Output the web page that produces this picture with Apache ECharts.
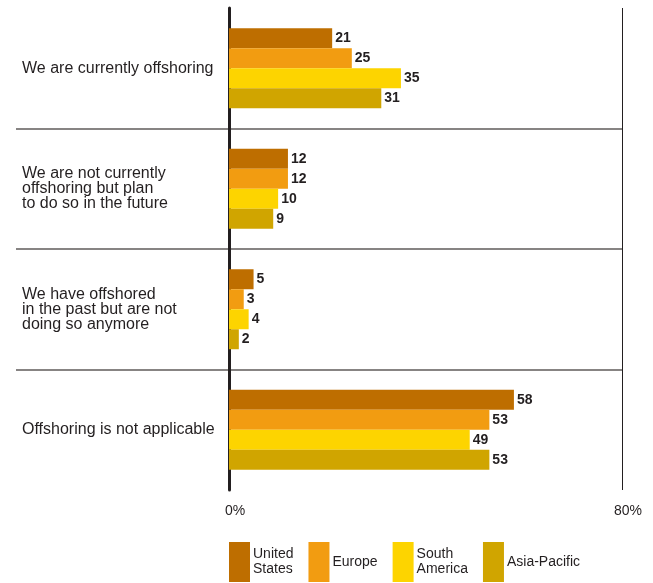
<!DOCTYPE html>
<html>
<head>
<meta charset="utf-8">
<script src="https://cdn.jsdelivr.net/npm/echarts@6/dist/echarts.min.js"></script>
<style>html,body{margin:0;padding:0;background:#fff}#c{width:653px;height:583px}</style>
</head>
<body>
<div id="c"></div>
<script>
const categories = [
  "We are currently offshoring",
  "We are not currently\noffshoring but plan\nto do so in the future",
  "We have offshored\nin the past but are not\ndoing so anymore",
  "Offshoring is not applicable"
];
const seriesNames = ["United\nStates", "Europe", "South\nAmerica", "Asia-Pacific"];
const unitedStates = [21, 12, 5, 58];
const europe = [25, 12, 3, 53];
const southAmerica = [35, 10, 4, 49];
const asiaPacific = [31, 9, 2, 53];
const xTickLabels = ["0%", "80%"];
const colors = ["#BE6E00", "#F29C11", "#FDD400", "#D0A500"];

const values = [unitedStates, europe, southAmerica, asiaPacific];
const textColor = "#231f20";
const font = "'Liberation Sans', Arial, sans-serif";

const chart = echarts.init(document.getElementById('c'), null, {renderer: 'canvas'});
chart.setOption({
  animation: false,
  backgroundColor: '#fff',
  grid: [
    {left: 229, right: 31, top: 8, bottom: 93, containLabel: false},
    {left: 16, right: 31, top: 8, bottom: 93, containLabel: false}
  ],
  xAxis: [
    {
      gridIndex: 0, type: 'value', min: 0, max: 80, interval: 80,
      axisLine: {show: false}, axisTick: {show: false},
      axisLabel: {
        color: textColor, fontFamily: font, fontSize: 14, margin: 14,
        padding: [0, 0, 0, 12],
        formatter: function (v) { return v === 0 ? xTickLabels[0] : xTickLabels[1]; }
      },
      splitLine: {show: true, showMinLine: false, lineStyle: {color: textColor, width: 1}}
    },
    {
      gridIndex: 1, type: 'value', min: 0, max: 80, show: false
    }
  ],
  yAxis: [
    {
      gridIndex: 0, type: 'category', data: categories, inverse: true,
      axisLine: {show: true, lineStyle: {color: textColor, width: 3}},
      axisTick: {show: false}, axisLabel: {show: false}, splitLine: {show: false}
    },
    {
      gridIndex: 1, type: 'category', data: categories, inverse: true,
      axisLine: {show: false}, axisTick: {show: false},
      axisLabel: {
        inside: true, margin: 6, align: 'left',
        color: textColor, fontFamily: font, fontSize: 16, lineHeight: 15
      },
      splitLine: {show: true, showMinLine: false, showMaxLine: false,
        lineStyle: {color: '#5f5b5a', width: 1.5}}
    }
  ],
  legend: {
    left: 229, top: 542, padding: 0, icon: 'rect', itemWidth: 21, itemHeight: 40, itemGap: 15,
    textStyle: {color: textColor, fontFamily: font, fontSize: 14, lineHeight: 15, padding: [0, 0, 0, -2]},
    data: seriesNames
  },
  series: seriesNames.map(function (name, i) {
    return {
      name: name, type: 'bar', xAxisIndex: 0, yAxisIndex: 0,
      data: values[i], barWidth: 20, barGap: '0%',
      itemStyle: {color: colors[i]},
      label: {
        show: true, position: 'right', distance: 3,
        color: textColor, fontFamily: font, fontSize: 14, fontWeight: 'bold'
      }
    };
  })
});
</script>
</body>
</html>
